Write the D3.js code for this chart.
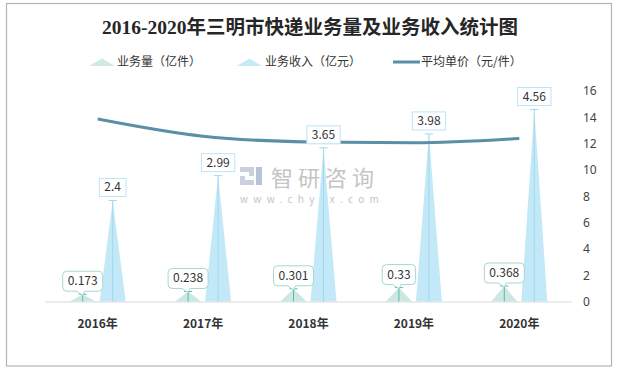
<!DOCTYPE html>
<meta charset="utf-8">
<script src="https://cdn.jsdelivr.net/npm/d3@7"></script>
<style>
    body { margin: 0; background: #fff; }
    svg { display: block; font-family: "Noto Sans CJK SC", "Microsoft YaHei", sans-serif; }
</style>
<div id="chart"></div>
<script>
    var years = ["2016年", "2017年", "2018年", "2019年", "2020年"];
    var volume = [0.173, 0.238, 0.301, 0.33, 0.368];     // 业务量（亿件）
    var revenue = [2.4, 2.99, 3.65, 3.98, 4.56];         // 业务收入（亿元）
    var price = [13.87, 12.56, 12.13, 12.06, 12.39];     // 平均单价（元/件）
    var rightTicks = [0, 2, 4, 6, 8, 10, 12, 14, 16];

    var W = 620, H = 371;
    var svg = d3.select("#chart").append("svg").attr("width", W).attr("height", H);

    svg.append("rect").attr("x", 6.5).attr("y", 3.5).attr("width", 605).attr("height", 362.5)
        .attr("fill", "#fff").attr("stroke", "#b4b4b4").attr("stroke-width", 1.2);

    svg.append("text").attr("x", 310).attr("y", 34).attr("text-anchor", "middle")
        .style("font-family", "'Liberation Serif', 'Noto Sans CJK SC', serif")
        .style("font-weight", "bold").style("font-size", "19.5px").attr("fill", "#262626")
        .text("2016-2020年三明市快递业务量及业务收入统计图");

    var x = d3.scaleBand().domain(years).range([45, 572]);
    var yL = d3.scaleLinear().domain([0, 5]).range([301.5, 91]);
    var yR = d3.scaleLinear().domain([0, 16]).range([301.5, 91]);
    var half = 13, off = 15;

    // legend
    var legend = svg.append("g").style("font-size", "12px").attr("fill", "#333");
    legend.append("path").attr("d", "M89,66 L102,58.5 L115,66 Z").attr("fill", "#cfe9e5");
    legend.append("text").attr("x", 117).attr("y", 66).text("业务量（亿件）");
    legend.append("path").attr("d", "M237,66 L249.5,58.5 L262,66 Z").attr("fill", "#c6eaf8");
    legend.append("text").attr("x", 265).attr("y", 66).text("业务收入（亿元）");
    legend.append("line").attr("x1", 393).attr("x2", 420).attr("y1", 62).attr("y2", 62)
        .attr("stroke", "#5a8fa5").attr("stroke-width", 3);
    legend.append("text").attr("x", 421).attr("y", 66).text("平均单价（元/件）");

    // watermark
    var wm = svg.append("g").attr("fill", "#c9d1de");
    wm.append("path").attr("d", "M240,167 h14 v9 h-9 v4 h9 v5 h-14 v-9 h9 v-4 h-9 z");
    wm.append("path").attr("d", "M256,167 h6 v18 h-6 z").attr("fill", "#b7c3d6");
    svg.append("text").attr("x", 271).attr("y", 186).style("font-size", "22px")
        .style("letter-spacing", "5px").attr("fill", "#c4c4c4").text("智研咨询");
    svg.append("text").attr("x", 240).attr("y", 203).style("font-size", "10px")
        .style("letter-spacing", "5.3px").attr("fill", "#c4c4c4").text("www.chyxx.com");

    // axis baseline
    svg.append("line").attr("x1", 45).attr("x2", 572).attr("y1", 302).attr("y2", 302)
        .attr("stroke", "#d9d9d9").attr("stroke-width", 1.2);

    // right axis
    var ra = svg.append("g").attr("transform", "translate(578,0)")
        .call(d3.axisRight(yR).tickValues(rightTicks).tickSize(0).tickPadding(5));
    ra.select(".domain").remove();
    ra.selectAll("text").style("font-size", "12px").attr("fill", "#444")
        .style("font-family", "'Noto Sans', sans-serif");

    // x labels
    svg.append("g").selectAll("text").data(years).join("text")
        .attr("x", function(d) { return x(d) + x.bandwidth() / 2; })
        .attr("y", 328).attr("text-anchor", "middle")
        .style("font-size", "12px").style("font-weight", "bold").attr("fill", "#333")
        .text(function(d) { return d; });

    function triangles(values, dx, fill, lineColor) {
        var g = svg.append("g");
        values.forEach(function(v, i) {
            var cx = x(years[i]) + x.bandwidth() / 2 + dx, top = yL(v), base = yL(0);
            g.append("path").attr("d", "M" + (cx - half) + "," + base + " L" + cx + "," + top + " L" + (cx + half) + "," + base + " Z")
                .attr("fill", fill);
            g.append("line").attr("x1", cx).attr("x2", cx).attr("y1", base).attr("y2", top)
                .attr("stroke", lineColor).attr("stroke-width", 1);
            g.append("line").attr("x1", cx - 4).attr("x2", cx + 4).attr("y1", top).attr("y2", top)
                .attr("stroke", lineColor).attr("stroke-width", 1);
        });
    }
    triangles(volume, -off, "#cbe8e3", "#5fb8aa");
    triangles(revenue, off, "#c3e9f8", "#9fd9ee");

    // price line
    svg.append("path").datum(price)
        .attr("d", d3.line()
            .x(function(d, i) { return x(years[i]) + x.bandwidth() / 2; })
            .y(function(d) { return yR(d); })
            .curve(d3.curveMonotoneX))
        .attr("fill", "none").attr("stroke", "#5a8fa5").attr("stroke-width", 3);

    // revenue labels
    revenue.forEach(function(v, i) {
        var cx = x(years[i]) + x.bandwidth() / 2 + off, top = yL(v);
        var t = svg.append("text").attr("x", cx).attr("y", top - 9).attr("text-anchor", "middle")
            .style("font-size", "12px").attr("fill", "#333").text(v);
        var w = t.node().getComputedTextLength() + 10;
        svg.insert("rect", function() { return t.node(); })
            .attr("x", cx - w / 2).attr("y", top - 22).attr("width", w).attr("height", 18)
            .attr("fill", "#fff").attr("stroke", "#bde5f5");
    });

    // volume callouts
    volume.forEach(function(v, i) {
        var cx = x(years[i]) + x.bandwidth() / 2 - off, top = yL(v);
        var b = top - 3, h = 20, r = 4;
        var t = svg.append("text").attr("x", cx).attr("y", b - 6).attr("text-anchor", "middle")
            .style("font-size", "12px").attr("fill", "#333").text(v);
        var w = t.node().getComputedTextLength() + 10;
        var l = cx - w / 2, rr = cx + w / 2, tp = b - h;
        var d = "M" + (l + r) + "," + tp + " H" + (rr - r) + " Q" + rr + "," + tp + " " + rr + "," + (tp + r) +
            " V" + (b - r) + " Q" + rr + "," + b + " " + (rr - r) + "," + b +
            " H" + (cx + 2) + " L" + cx + "," + (top + 1) + " L" + (cx - 6) + "," + b +
            " H" + (l + r) + " Q" + l + "," + b + " " + l + "," + (b - r) +
            " V" + (tp + r) + " Q" + l + "," + tp + " " + (l + r) + "," + tp + " Z";
        svg.insert("path", function() { return t.node(); }).attr("d", d)
            .attr("fill", "#fff").attr("stroke", "#a3d9d0");
    });
</script>
